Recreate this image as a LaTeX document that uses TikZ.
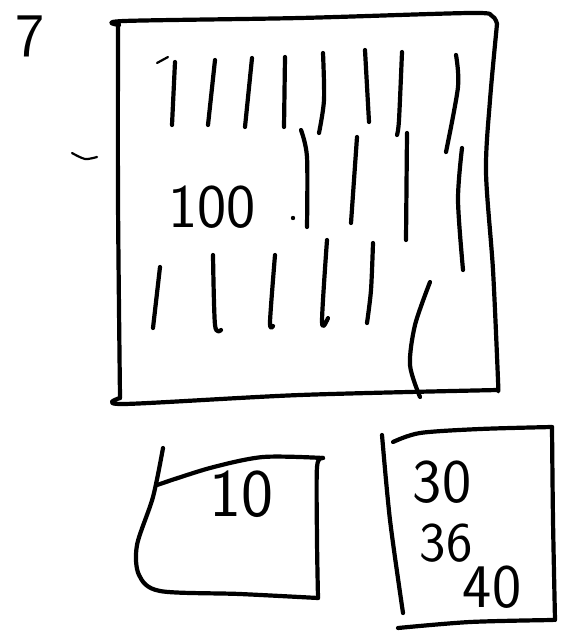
\documentclass[tikz,border=0pt]{standalone}
\begin{document}
\begin{tikzpicture}[x=1pt,y=-1pt,
  ink/.style={line width=4.2pt,line cap=round,line join=round,black},
  thin ink/.style={line width=2.2pt,line cap=round,black},
  digits/.style={inner sep=0pt,font=\sffamily\fontsize{62}{62}\selectfont}]
\useasboundingbox (0,0) rectangle (560,634);
\fill[white] (0,0) rectangle (560,634);

% labels
\node[digits] (seven) at (30,36) {7};
\node[digits] (hundred) at (212,207) {100};
\node[digits,font=\sffamily\fontsize{68}{68}\selectfont] (ten) at (241,494) {10};
\node[digits] (thirty) at (442,482) {30};
\node[digits,font=\sffamily\fontsize{56}{56}\selectfont] (thirtysix) at (446,543) {36};
\node[digits] (forty) at (492,587) {40};

% small mark at left
\draw[thin ink] plot[smooth] coordinates {(72,153) (85,159) (97,157)};

% large box
\draw[ink] plot[smooth] coordinates {(119,25) (124,21) (300,18) (470,13) (492,16) (497,24)};
\draw[ink] plot[smooth] coordinates {(497,24) (490,100) (486,172) (493,270) (498,380) (498,390)};
\draw[ink] plot[smooth] coordinates {(498,390) (300,395) (124,404) (120,398)};
\draw[ink] plot[smooth] coordinates {(118,26) (118,200) (120,398)};

% tallies row 1
\draw[thin ink] (157,63) -- (168,57);
\draw[ink] (175,62) -- (172,125);
\draw[ink] (215,60) -- (208,125);
\draw[ink] (252,58) -- (245,127);
\draw[ink] (285,57) -- (284,127);
\draw[ink] plot[smooth] coordinates {(323,53) (324,100) (319,133)};
\draw[ink] (365,50) -- (369,122);
\draw[ink] plot[smooth] coordinates {(402,52) (399,120) (397,135)};
\draw[ink] plot[smooth] coordinates {(456,55) (458,87) (446,152)};

% tallies row 2
\fill (293,218) circle (2.2pt);
\draw[ink] plot[smooth] coordinates {(301,130) (307,157) (307,227)};
\draw[ink] (357,137) -- (351,223);
\draw[ink] (407,133) -- (406,240);
\draw[ink] plot[smooth] coordinates {(462,148) (458,200) (463,270)};

% tallies row 3
\draw[ink] (160,267) -- (153,328);
\draw[ink] plot[smooth] coordinates {(213,255) (215,325) (221,330)};
\draw[ink] plot[smooth] coordinates {(275,255) (270,322) (273,326)};
\draw[ink] plot[smooth] coordinates {(327,240) (322,322) (328,318)};
\draw[ink] plot[smooth] coordinates {(373,243) (371,290) (367,323)};
\draw[ink] plot[smooth] coordinates {(430,282) (415,325) (410,365) (420,397)};

% bottom-left box
\draw[ink] plot[smooth] coordinates {(157,485) (210,468) (263,457) (323,458)};
\draw[ink] plot[smooth] coordinates {(323,458) (317,467) (317,540) (318,598)};
\draw[ink] plot[smooth] coordinates {(163,448) (153,497) (137,545) (139,575) (160,591) (240,594) (318,598)};

% bottom-right box
\draw[ink] plot[smooth] coordinates {(393,442) (420,433) (480,429) (552,427)};
\draw[ink] plot[smooth] coordinates {(552,427) (553,520) (555,620)};
\draw[ink] plot[smooth] coordinates {(382,435) (390,520) (403,613)};
\draw[ink] plot[smooth] coordinates {(398,628) (470,622) (553,620)};
\end{tikzpicture}
\end{document}
